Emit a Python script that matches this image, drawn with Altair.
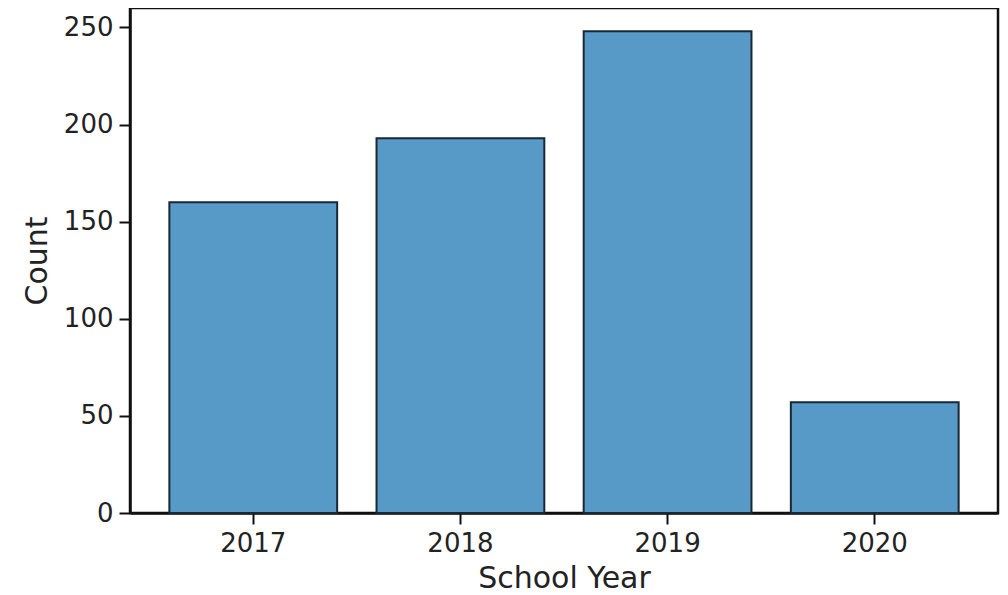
import altair as alt
import pandas as pd

years = ["2017", "2018", "2019", "2020"]
counts = [160, 193, 248, 57]
y_ticks = [0, 50, 100, 150, 200, 250]

df = pd.DataFrame({"School Year": years, "Count": counts})

FONT = "DejaVu Sans"

chart = alt.Chart(df).mark_bar(
    color="#5799C7", stroke="#1b2733", strokeWidth=2
).encode(
    x=alt.X(
        "School Year:N",
        sort=years,
        scale=alt.Scale(paddingInner=0.19, paddingOuter=0.19),
        axis=alt.Axis(
            title="School Year", labelAngle=0, labelFontSize=26, titleFontSize=30,
            labelFont=FONT, titleFont=FONT, labelColor="#222", titleColor="#222",
            titleFontWeight="normal", tickSize=11, tickWidth=2, tickColor="#111",
            domainColor="#111", domainWidth=2.5, labelPadding=6,
            titleBaseline="alphabetic", titleY=74,
        ),
    ),
    y=alt.Y(
        "Count:Q",
        scale=alt.Scale(domain=[0, 260], nice=False),
        axis=alt.Axis(
            title="Count", values=y_ticks, grid=False, labelFontSize=26, titleFontSize=30,
            labelFont=FONT, titleFont=FONT, labelColor="#222", titleColor="#222",
            titleFontWeight="normal", tickSize=11, tickWidth=2, tickColor="#111",
            domainColor="#111", domainWidth=2.5, labelPadding=6, titleX=-78,
        ),
    ),
).properties(
    width=868, height=505,
    background="white",
    autosize=alt.AutoSizeParams(type="none"),
    padding={"left": 122, "top": 0, "right": 2, "bottom": 80},
).configure_view(
    stroke="#111", strokeWidth=2.5
)

chart.save("out.html", embed_options={"renderer": "svg", "actions": False})
